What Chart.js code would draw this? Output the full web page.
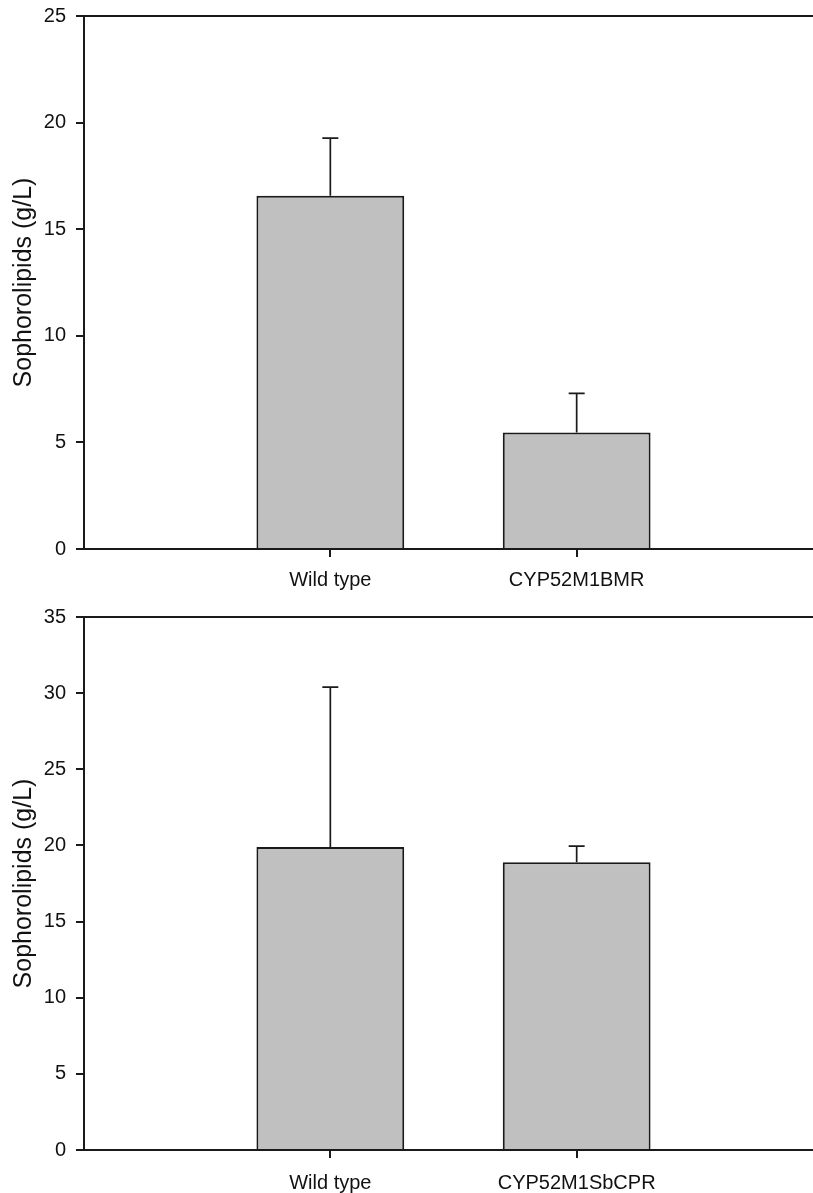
<!DOCTYPE html>
<html>
<head>
<meta charset="utf-8">
<script src="https://cdn.jsdelivr.net/npm/chart.js@4.4.1/dist/chart.umd.min.js"></script>
<style>
  html, body { margin: 0; padding: 0; background: #fff; overflow: hidden; }
  body { width: 813px; height: 1193px; position: relative; }
  canvas { position: absolute; left: 0; }
  #top { top: 0; }
  #bottom { top: 600px; }
</style>
</head>
<body>
<canvas id="top" width="823" height="600"></canvas>
<canvas id="bottom" width="823" height="593"></canvas>
<script>
// Upper panel
const categoriesTop = ['Wild type', 'CYP52M1BMR'];
const valuesTop = [16.57, 5.47];
const errorsTop = [2.7, 1.83];
const yTicksTop = [0, 5, 10, 15, 20, 25];

// Lower panel
const categoriesBottom = ['Wild type', 'CYP52M1SbCPR'];
const valuesBottom = [19.9, 18.9];
const errorsBottom = [10.5, 1.05];
const yTicksBottom = [0, 5, 10, 15, 20, 25, 30, 35];

const yTitle = 'Sophorolipids (g/L)';
const FONT = '"Liberation Sans", Arial, Helvetica, sans-serif';
const INK = '#1a1a1a';

// Upward error bars with a short cap
const errorBarPlugin = {
  id: 'errorBars',
  afterDatasetsDraw(chart, args, opts) {
    const { ctx } = chart;
    const meta = chart.getDatasetMeta(0);
    const ys = chart.scales.y;
    const data = chart.data.datasets[0].data;
    ctx.save();
    ctx.strokeStyle = INK;
    ctx.lineWidth = 1.7;
    meta.data.forEach((bar, i) => {
      const v = data[i];
      const e = opts.errors[i];
      if (v == null || e == null) return;
      const x = bar.x;
      const y0 = ys.getPixelForValue(v);
      const y1 = ys.getPixelForValue(v + e);
      ctx.beginPath();
      ctx.moveTo(x, y0);
      ctx.lineTo(x, y1);
      ctx.moveTo(x - 8, y1);
      ctx.lineTo(x + 8, y1);
      ctx.stroke();
    });
    ctx.restore();
  }
};

// Top edge of the plot frame
const frameTopPlugin = {
  id: 'frameTop',
  afterDraw(chart) {
    const { ctx, chartArea } = chart;
    ctx.save();
    ctx.strokeStyle = INK;
    ctx.lineWidth = 2;
    ctx.beginPath();
    ctx.moveTo(chartArea.left, chartArea.top);
    ctx.lineTo(chartArea.right, chartArea.top);
    ctx.stroke();
    ctx.restore();
  }
};

function makePanel(canvasId, categories, values, errors, yTicks, padTop, xHeight, labelPad) {
  const labels = ['', ...categories, ''];
  const data = [null, ...values, null];
  const yMax = yTicks[yTicks.length - 1];
  return new Chart(document.getElementById(canvasId), {
    type: 'bar',
    data: {
      labels,
      datasets: [{
        data,
        backgroundColor: '#c0c0c0',
        borderColor: INK,
        borderWidth: 2,
        borderSkipped: 'start',
        barPercentage: 1,
        categoryPercentage: 0.6
      }]
    },
    options: {
      responsive: false,
      animation: false,
      devicePixelRatio: 1,
      layout: { padding: { top: padTop, left: 0, right: 0, bottom: 0 } },
      plugins: {
        legend: { display: false },
        tooltip: { enabled: false },
        errorBars: { errors: [null, ...errors, null] }
      },
      scales: {
        x: {
          type: 'category',
          offset: false,
          grid: {
            offset: false,
            drawOnChartArea: false,
            drawTicks: true,
            tickLength: 8,
            lineWidth: 2,
            color: (c) => (c.tick && c.tick.label) ? INK : 'rgba(0,0,0,0)'
          },
          border: { display: true, color: INK, width: 2 },
          ticks: {
            color: '#111',
            font: { family: FONT, size: 20 },
            padding: labelPad,
            maxRotation: 0,
            autoSkip: false
          },
          afterFit(scale) {
            scale.height = xHeight;
            scale.paddingLeft = 0;
            scale.paddingRight = 0;
          }
        },
        y: {
          min: 0,
          max: yMax,
          afterBuildTicks(scale) { scale.ticks = yTicks.map(v => ({ value: v })); },
          grid: {
            drawOnChartArea: false,
            drawTicks: true,
            tickLength: 8,
            lineWidth: 2,
            color: INK
          },
          border: { display: true, color: INK, width: 2 },
          ticks: {
            color: '#111',
            font: { family: FONT, size: 20 },
            padding: 10
          },
          title: {
            display: true,
            text: yTitle,
            color: '#111',
            font: { family: FONT, size: 25 },
            padding: { top: 9, bottom: 0 }
          },
          afterFit(scale) {
            scale.width = 84;
            scale.paddingTop = 0;
            scale.paddingBottom = 0;
          }
        }
      }
    },
    plugins: [errorBarPlugin, frameTopPlugin]
  });
}

makePanel('top', categoriesTop, valuesTop, errorsTop, yTicksTop, 16, 51, 11);
makePanel('bottom', categoriesBottom, valuesBottom, errorsBottom, yTicksBottom, 17, 43, 13);
</script>
</body>
</html>
